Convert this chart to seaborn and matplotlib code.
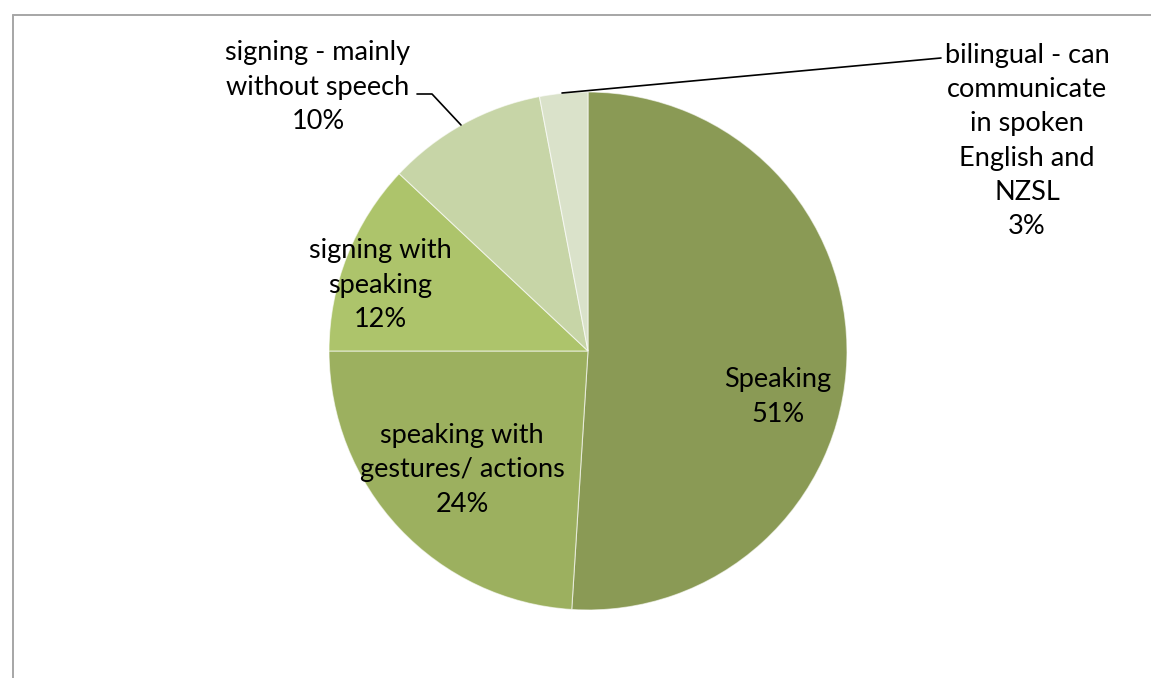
import matplotlib
matplotlib.use("Agg")
import matplotlib.pyplot as plt
from matplotlib.lines import Line2D
import seaborn as sns

# Communication modes
categories = [
    "Speaking",
    "speaking with\ngestures/ actions",
    "signing with\nspeaking",
    "signing - mainly\nwithout speech",
    "bilingual - can\ncommunicate\nin spoken\nEnglish and\nNZSL",
]
shares = [51, 24, 12, 10, 3]
colors = ["#8A9A55", "#9CB05F", "#ADC46B", "#C7D5A7", "#DAE2CA"]

sns.set_theme(style="white")
plt.rcParams["font.family"] = ["Lato", "DejaVu Sans"]

W, H = 1151, 678
fig = plt.figure(figsize=(W / 100, H / 100), dpi=100)
ax = fig.add_axes([0, 0, 1, 1])
ax.set_xlim(0, W)
ax.set_ylim(0, H)
ax.set_aspect("equal")
ax.axis("off")

cx, cy, r = 588, H - 351, 259
palette = sns.color_palette(colors)
wedges, _ = ax.pie(
    shares,
    colors=palette,
    startangle=90,
    counterclock=False,
    center=(cx, cy),
    radius=r,
    wedgeprops=dict(edgecolor=(1, 1, 1, 0.6), linewidth=0.8),
)
ax.set_xlim(0, W)
ax.set_ylim(0, H)

fs = 19.5
label_pos = [(778, 397), (462, 470), (380, 285), (318, 87), (1027, 141)]
for cat, val, (lx, ly) in zip(categories, shares, label_pos):
    ax.text(lx, H - ly, f"{cat}\n{val}%", ha="center", va="center",
            fontsize=fs, color="black", linespacing=1.47)

# leader lines for the two small slices
ax.plot([461, 432, 417], [H - 125, H - 94, H - 94], color="black", lw=1.2)
ax.plot([562, 930, 941], [H - 93, H - 59, H - 58], color="black", lw=1.2)

# chart frame
frame = dict(color="#A6A6A6", lw=1.4, transform=None)
fig.add_artist(Line2D([12.5, W + 5], [H - 15, H - 15], **frame))
fig.add_artist(Line2D([12.5, 12.5], [H - 15, -5], **frame))

fig.savefig("out.png", dpi=100)
